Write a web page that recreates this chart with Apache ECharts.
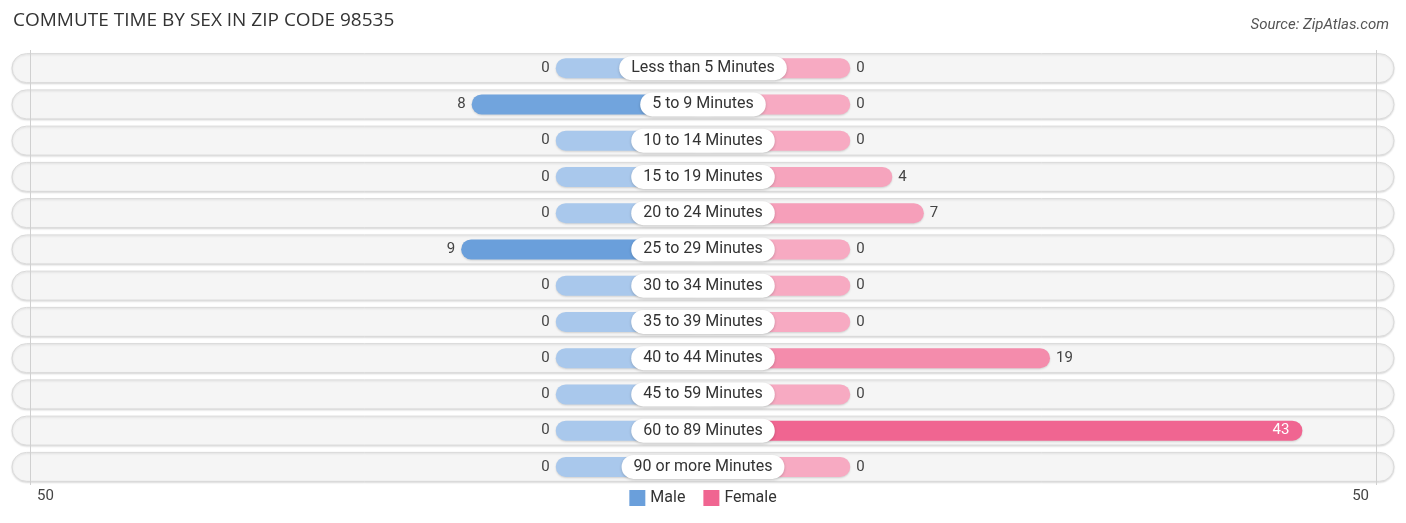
<!DOCTYPE html>
<html>
<head>
<meta charset="utf-8">
<title>Commute time by sex</title>
<script src="https://cdn.jsdelivr.net/npm/echarts@6/dist/echarts.min.js"></script>
<style>
  html, body { margin: 0; padding: 0; background: #fff; }
  #chart { width: 1406px; height: 523px; }
</style>
</head>
<body>
<div id="chart"></div>
<script>
// data
var categories = ['Less than 5 Minutes', '5 to 9 Minutes', '10 to 14 Minutes', '15 to 19 Minutes',
  '20 to 24 Minutes', '25 to 29 Minutes', '30 to 34 Minutes', '35 to 39 Minutes',
  '40 to 44 Minutes', '45 to 59 Minutes', '60 to 89 Minutes', '90 or more Minutes'];
var maleValues = [0, 8, 0, 0, 0, 9, 0, 0, 0, 0, 0, 0];
var femaleValues = [0, 0, 0, 4, 7, 0, 0, 0, 19, 0, 43, 0];
var axisLabels = ['50', '50'];
var axisMax = 50;

var STUB = 14; // length (in axis units) a zero bar still shows under the centre label
var font = 'Roboto, "Noto Sans", sans-serif';

// colour gets stronger with the value
function mix(a, b, t) {
  var c = [];
  for (var i = 0; i < 3; i++) c[i] = Math.round(a[i] + (b[i] - a[i]) * t);
  return 'rgb(' + c.join(',') + ')';
}
var maleMax = Math.max.apply(null, maleValues);
var femaleMax = Math.max.apply(null, femaleValues);

var maleData = maleValues.map(function(v) {
  return {
    value: -(v + STUB),
    itemStyle: { color: mix([169, 200, 236], [106, 159, 219], v / maleMax) }
  };
});
var femaleData = femaleValues.map(function(v) {
  var item = {
    value: v + STUB,
    itemStyle: { color: mix([247, 170, 194], [240, 101, 145], v / femaleMax) }
  };
  if (v > 30) {
    item.label = { position: 'insideRight', color: '#fff', distance: 13 };
  }
  return item;
});

var chart = echarts.init(document.getElementById('chart'));
chart.setOption({
  animation: false,
  title: [{
    text: 'COMMUTE TIME BY SEX IN ZIP CODE 98535',
    left: 8, top: 6,
    textStyle: { fontFamily: '"Open Sans", sans-serif', fontSize: 19, fontWeight: 'normal', color: '#333' }
  }, {
    text: 'Source: ZipAtlas.com',
    right: 12, top: 13,
    textStyle: { fontFamily: font, fontSize: 15, fontWeight: 'normal', fontStyle: 'italic', color: '#555' }
  }],
  legend: {
    data: ['Male', 'Female'],
    left: 'center', top: 485,
    icon: 'rect', itemWidth: 16, itemHeight: 16, itemGap: 18,
    textStyle: { fontFamily: font, fontSize: 16, color: '#333' }
  },
  grid: { left: 30, right: 30, top: 50, bottom: 38 },
  xAxis: { type: 'value', min: -(axisMax + STUB), max: axisMax + STUB, show: false },
  yAxis: { type: 'category', data: categories, inverse: true, show: false },
  graphic: [
    { type: 'text', left: 37, top: 489, style: { text: axisLabels[0], font: '15px ' + font, fill: '#444' } },
    { type: 'text', right: 37, top: 489, style: { text: axisLabels[1], font: '15px ' + font, fill: '#444' } }
  ],
  series: [
    { // row backgrounds
      type: 'custom',
      silent: true,
      z: 1,
      data: categories.map(function(c, i) { return [0, i]; }),
      encode: { x: 0, y: 1 },
      renderItem: function(params, api) {
        var p = api.coord([api.value(0), api.value(1)]);
        var h = api.size([0, 1])[1] * 0.8;
        var cs = params.coordSys;
        return {
          type: 'rect',
          shape: { x: cs.x - 18, y: p[1] - h / 2, width: cs.width + 36, height: h, r: h / 2 },
          style: { fill: '#f5f5f5', stroke: '#dadada', lineWidth: 1,
            shadowBlur: 2, shadowOffsetY: 1, shadowColor: 'rgba(0,0,0,0.12)' }
        };
      }
    },
    {
      name: 'Male',
      type: 'bar',
      z: 2,
      barWidth: 20,
      barGap: '-100%',
      itemStyle: { color: '#6a9fdb', borderRadius: 10,
        shadowBlur: 2, shadowOffsetY: 1, shadowColor: 'rgba(0,0,0,0.15)' },
      label: {
        show: true, position: 'left', distance: 6,
        fontFamily: font, fontSize: 15, color: '#444',
        formatter: function(p) { return maleValues[p.dataIndex]; }
      },
      markLine: {
        silent: true, symbol: 'none',
        label: { show: false },
        lineStyle: { color: '#d0d0d0', width: 1, type: 'solid' },
        data: [{ xAxis: -(axisMax + STUB) }, { xAxis: axisMax + STUB }]
      },
      data: maleData
    },
    {
      name: 'Female',
      type: 'bar',
      z: 2,
      barWidth: 20,
      itemStyle: { color: '#f06591', borderRadius: 10,
        shadowBlur: 2, shadowOffsetY: 1, shadowColor: 'rgba(0,0,0,0.15)' },
      label: {
        show: true, position: 'right', distance: 6,
        fontFamily: font, fontSize: 15, color: '#444',
        formatter: function(p) { return femaleValues[p.dataIndex]; }
      },
      data: femaleData
    },
    { // centre category pills
      type: 'custom',
      silent: true,
      z: 10,
      data: categories.map(function(c, i) { return [0, i]; }),
      encode: { x: 0, y: 1 },
      renderItem: function(params, api) {
        var p = api.coord([api.value(0), api.value(1)]);
        return {
          type: 'text',
          x: p[0], y: p[1],
          style: {
            text: categories[params.dataIndex],
            align: 'center', verticalAlign: 'middle',
            font: '16px ' + font, fill: '#333',
            backgroundColor: '#fff', padding: [4, 12], borderRadius: 13,
            shadowBlur: 3, shadowOffsetY: 1, shadowColor: 'rgba(0,0,0,0.2)'
          }
        };
      }
    }
  ]
});
</script>
</body>
</html>
